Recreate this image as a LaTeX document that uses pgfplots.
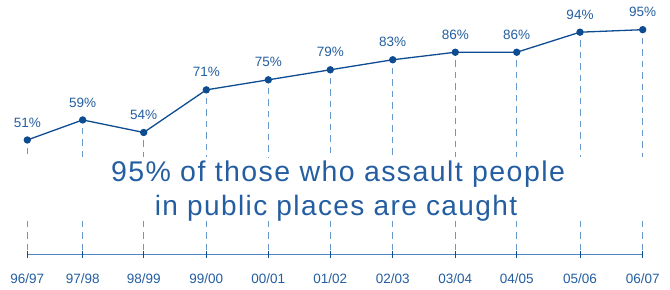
\documentclass[border=0pt]{standalone}
\usepackage{pgfplots}
\pgfplotsset{compat=1.18}
\usepackage{pgfplotstable}
\usepackage{fontspec}
\setmainfont{Liberation Sans}
\newfontfamily\bigfont[LetterSpace=5]{Liberation Sans}
\definecolor{linec}{RGB}{14,76,145}
\definecolor{textc}{RGB}{36,94,160}
\definecolor{dashc}{RGB}{105,152,204}
\definecolor{axisc}{RGB}{80,135,195}
\pgfplotstableread{
x v
27.3 51
82.7 59
143.7 54
206.3 71
268.3 75
330.3 79
392.7 83
455.3 86
516.7 86
580.0 94
642.7 95
}\datatable
\begin{document}
\begin{tikzpicture}
\begin{axis}[
  scale only axis, width=670bp, height=289bp,
  xmin=0, xmax=670, ymin=-8.43, ymax=106.84,
  axis line style={draw=none}, tick style={draw=none},
  ytick=\empty,
  /pgf/number format/assume math mode=true,
  xtick={27.3,82.7,143.7,206.3,268.3,330.3,392.7,455.3,516.7,580.0,642.7},
  xticklabels={96/97,97/98,98/99,99/00,00/01,01/02,02/03,03/04,04/05,05/06,06/07},
  xticklabel style={anchor=center, yshift=10bp, font=\fontsize{13.5bp}{15bp}\selectfont, text=textc},
  clip=false,
]
\foreach \x/\v in {27.3/51,82.7/59,143.7/54,206.3/71,268.3/75,330.3/79,392.7/83,455.3/86,516.7/86,580.0/94,642.7/95}{
  \edef\temp{\noexpand\draw[dashc, line width=0.9bp, dash pattern=on 6.5bp off 5bp] ([yshift=-8bp]axis cs:\x,\v) -- (axis cs:\x,44.2);
  \noexpand\draw[dashc, line width=0.9bp, dash pattern=on 6.5bp off 5bp] (axis cs:\x,18.7) -- (axis cs:\x,5.53);}
  \temp
}
\draw[axisc, line width=1bp] (axis cs:27.3,5.53) -- (axis cs:642.7,5.53);
\foreach \x in {27.3,82.7,143.7,206.3,268.3,330.3,392.7,455.3,516.7,580.0,642.7}{
  \edef\temp{\noexpand\draw[linec, line width=1bp] ([yshift=3.3bp]axis cs:\x,5.53) -- ([yshift=-4bp]axis cs:\x,5.53);}
  \temp
}
\addplot[linec, line width=1.3bp, mark=*, mark size=3bp, mark options={fill=linec, draw=linec},
  point meta=explicit,
  nodes near coords={\pgfmathprintnumber{\pgfplotspointmeta}\%},
  every node near coord/.append style={anchor=center, yshift=17.5bp, font=\fontsize{13.5bp}{15bp}\selectfont, text=textc},
] table[x=x, y=v, meta=v] {\datatable};
\node[anchor=base, text=textc, font=\bigfont\fontsize{28.5bp}{33bp}\selectfont] at (axis cs:338,34.25) {95\% of those who assault people};
\node[anchor=base, text=textc, font=\bigfont\fontsize{28bp}{33bp}\selectfont] at (axis cs:336,20.7) {in public places are caught};
\end{axis}
\end{tikzpicture}
\end{document}
